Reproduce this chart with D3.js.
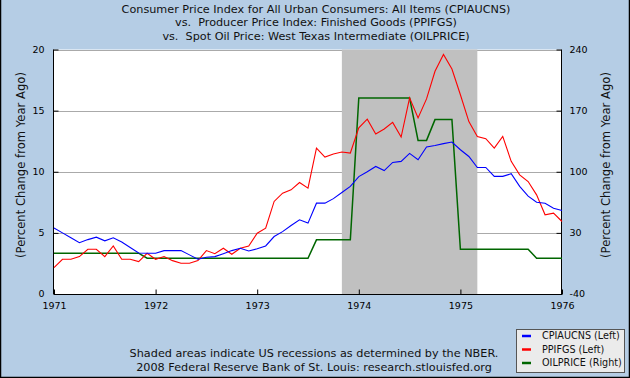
<!DOCTYPE html>
<html><head><meta charset="utf-8">
<script src="https://cdn.jsdelivr.net/npm/d3@7"></script>
<style>
html,body{margin:0;padding:0;background:#B5CDE5;}
svg{display:block;font-family:"DejaVu Sans",Verdana,sans-serif;}
text{white-space:pre;}
</style></head>
<body>
<svg id="c" width="630" height="378"></svg>
<script>
// ---- data (monthly, Jan 1971 .. Jan 1976) ----
const startYear = 1971;
const cpiaucns = [5.4,5.0,4.6,4.2,4.45,4.65,4.35,4.6,4.25,3.8,3.35,3.33,3.33,3.55,3.55,3.55,3.2,2.84,3.0,3.06,3.3,3.55,3.74,3.52,3.7,3.93,4.7,5.1,5.6,6.07,5.8,7.43,7.43,7.8,8.3,8.8,9.6,10.0,10.43,10.1,10.76,10.85,11.5,10.98,12.02,12.15,12.3,12.43,11.8,11.25,10.35,10.35,9.62,9.62,9.84,8.8,8.0,7.5,7.43,7.02,6.83];
const ppifgs = [2.16,2.84,2.84,3.06,3.66,3.66,3.06,3.93,2.84,2.84,2.65,3.33,2.84,3.06,2.73,2.52,2.52,2.73,3.55,3.3,3.74,3.25,3.74,3.93,4.97,5.38,7.57,8.25,8.52,9.12,8.66,11.94,11.2,11.45,11.61,11.53,13.6,14.3,13.09,13.5,14.04,12.84,16.04,14.4,15.96,18.22,19.59,18.4,16.3,14.1,12.89,12.7,11.94,12.89,10.85,9.75,9.2,8.11,6.48,6.61,5.93];
const oilprice = [6.7,6.7,6.7,6.7,6.7,6.7,6.7,6.7,6.7,6.7,6.7,1.0,1.0,1.0,1.0,1.0,1.0,1.0,1.0,1.0,1.0,1.0,1.0,1.0,1.0,1.0,1.0,1.0,1.0,1.0,1.0,22,22,22,22,22,184.6,184.6,184.6,184.6,184.6,184.6,184.6,135.9,135.9,159.7,159.7,159.7,11.3,11.3,11.3,11.3,11.3,11.3,11.3,11.3,11.3,1.0,1.0,1.0,1.0];
const recession = [1973 + 10/12, 1975 + 2/12];
const xTicks = [1971,1972,1973,1974,1975,1976];
const leftTicks = [0,5,10,15,20];
const rightTicks = [-40,30,100,170,240];
const titleLines = ["Consumer Price Index for All Urban Consumers: All Items (CPIAUCNS)",
  "vs.  Producer Price Index: Finished Goods (PPIFGS)",
  "vs.  Spot Oil Price: West Texas Intermediate (OILPRICE)"];
const footerLines = ["Shaded areas indicate US recessions as determined by the NBER.",
  "2008 Federal Reserve Bank of St. Louis: research.stlouisfed.org"];
const legendItems = [["CPIAUCNS (Left)","#0000FF"],["PPIFGS (Left)","#FF0000"],["OILPRICE (Right)","#006600"]];
const yTitle = "(Percent Change from Year Ago)";

// ---- layout ----
const L = 54, R = 562, T = 49.5, B = 294;
const svg = d3.select("#c");
const x = d3.scaleLinear().domain([1971,1976]).range([L,R]);
const yL = d3.scaleLinear().domain([0,20]).range([B,T]);
const yR = d3.scaleLinear().domain([-40,240]).range([B,T]);
const tOf = i => startYear + i/12;

// scale a group of texts so that a reference text has a target width
function fit(sel, refNode, target, base){
  const w = refNode.getComputedTextLength();
  const fs = base * target / w;
  sel.attr("font-size", fs.toFixed(2) + "px");
}

// background
svg.append("rect").attr("width",630).attr("height",378).attr("fill","#B5CDE5");
svg.append("path").attr("d","M0.5,0 V377.5 H629.5 V0").attr("fill","none").attr("stroke","#000").attr("stroke-width",1.5);

// plot area
svg.append("rect").attr("x",L).attr("y",T).attr("width",R-L).attr("height",B-T).attr("fill","#fff");
svg.append("g").selectAll("line").data(leftTicks.filter(d=>d>0)).join("line")
  .attr("x1",L).attr("x2",R).attr("y1",d=>Math.round(yL(d))+0.5).attr("y2",d=>Math.round(yL(d))+0.5)
  .attr("stroke","#AAAAAA").attr("stroke-width",1);
svg.append("rect").attr("x",x(recession[0])).attr("y",T).attr("width",x(recession[1])-x(recession[0])).attr("height",B-T).attr("fill","#C0C0C0");

// axes
const axL = d3.axisLeft(yL).tickValues(leftTicks).tickSize(-5).tickPadding(9).tickFormat(d3.format("d"));
const axR = d3.axisRight(yR).tickValues(rightTicks).tickSize(-5).tickPadding(8).tickFormat(d=>String(d));
const axB = d3.axisBottom(x).tickValues(xTicks).tickSize(-5).tickPadding(11.5).tickFormat(d3.format("d"));
function style(g){ g.select(".domain").attr("stroke","#000");
  g.selectAll(".tick line").attr("stroke","#000");
  g.selectAll("text").attr("fill","#000").attr("font-size","9.5px").attr("font-family","DejaVu Sans"); }
svg.append("g").attr("transform",`translate(${L-0.5},0)`).call(axL).call(style).call(g=>g.select(".domain").attr("d",`M0,${T}V${B}`));
svg.append("g").attr("transform",`translate(${R-0.5},0)`).call(axR).call(style).call(g=>g.select(".domain").attr("d",`M0,${T}V${B}`));
svg.append("g").attr("transform",`translate(0,${B+0.5})`).call(axB).call(style).call(g=>g.select(".domain").attr("d",`M${L},0H${R}`));
svg.selectAll(".tick text").attr("dy",null).attr("dominant-baseline","middle");

// lines
const line = (ys, arr) => d3.line().x((d,i)=>x(tOf(i))).y(d=>ys(d))(arr);
svg.append("path").attr("d",line(yR,oilprice)).attr("fill","none").attr("stroke","#006600").attr("stroke-width",1.5);
svg.append("path").attr("d",line(yL,ppifgs)).attr("fill","none").attr("stroke","#FF0000").attr("stroke-width",1.1);
svg.append("path").attr("d",line(yL,cpiaucns)).attr("fill","none").attr("stroke","#0000FF").attr("stroke-width",1.1);

// titles
const tt = svg.append("g").selectAll("text").data(titleLines).join("text")
  .attr("x",316).attr("y",(d,i)=>9.5+i*13.8).attr("text-anchor","middle").attr("dominant-baseline","middle")
  .attr("font-size","10.5px").attr("fill","#111").text(d=>d);
fit(tt, tt.nodes()[0], 389, 10.5);
// y titles
const yt = svg.append("g").selectAll("text").data([21,606]).join("text")
  .attr("transform",d=>`translate(${d},165) rotate(-90)`).attr("text-anchor","middle").attr("dominant-baseline","middle")
  .attr("font-size","10.5px").attr("fill","#111").text(yTitle);
fit(yt, yt.nodes()[0], 186, 10.5);
// footer
const ft = svg.append("g").selectAll("text").data(footerLines).join("text")
  .attr("x",314).attr("y",(d,i)=>353.5+i*14).attr("text-anchor","middle").attr("dominant-baseline","middle")
  .attr("font-size","10.5px").attr("fill","#111").text(d=>d);
fit(ft, ft.nodes()[0], 369, 10.5);
// legend
const lg = svg.append("g");
lg.append("rect").attr("x",516.5).attr("y",329.5).attr("width",108).attr("height",43).attr("fill","#EBEBEB").attr("stroke","#555");
const li = lg.selectAll("g").data(legendItems).join("g").attr("transform",(d,i)=>`translate(0,${336+i*13.5})`);
li.append("line").attr("x1",522).attr("x2",531).attr("stroke",d=>d[1]).attr("stroke-width",2.5);
const lt = li.append("text").attr("x",542).attr("dominant-baseline","middle").attr("font-size","9.5px").attr("fill","#111").text(d=>d[0]);
fit(lt, lt.nodes()[2], 80, 9.5);
</script>
</body></html>
